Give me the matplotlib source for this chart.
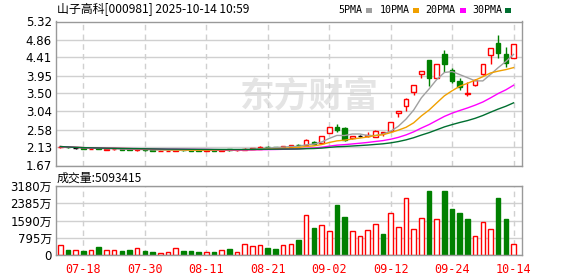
import matplotlib.pyplot as plt
from matplotlib.patches import Rectangle
import numpy as np
import pandas as pd

plt.rcParams['font.family'] = ['DejaVu Sans', 'Noto Sans CJK SC']

# trading days shown on the chart
dates = ['07-15', '07-16', '07-17', '07-18', '07-21', '07-22', '07-23', '07-24', '07-25', '07-28',
         '07-29', '07-30', '07-31', '08-01', '08-04', '08-05', '08-06', '08-07', '08-08', '08-11',
         '08-12', '08-13', '08-14', '08-15', '08-18', '08-19', '08-20', '08-21', '08-22', '08-25',
         '08-26', '08-27', '08-28', '08-29', '09-01', '09-02', '09-03', '09-04', '09-05', '09-08',
         '09-09', '09-10', '09-11', '09-12', '09-15', '09-16', '09-17', '09-18', '09-19', '09-22',
         '09-23', '09-24', '09-25', '09-26', '09-29', '09-30', '10-09', '10-10', '10-13', '10-14']

opens = [2.13, 2.15, 2.11, 2.12, 2.09, 2.11, 2.07, 2.08, 2.09, 2.08,
         2.06, 2.08, 2.06, 2.04, 2.04, 2.05, 2.07, 2.06, 2.06, 2.04,
         2.06, 2.05, 2.08, 2.06, 2.07, 2.09, 2.10, 2.15, 2.14, 2.13,
         2.15, 2.20, 2.18, 2.27, 2.25, 2.50, 2.65, 2.62, 2.36, 2.42,
         2.41, 2.40, 2.50, 2.55, 3.00, 3.17, 3.53, 4.00, 4.34, 3.89,
         4.49, 4.09, 3.82, 3.49, 3.70, 4.00, 4.46, 4.78, 4.49, 4.40]
closes = [2.15, 2.13, 2.11, 2.10, 2.10, 2.09, 2.08, 2.09, 2.07, 2.07,
          2.08, 2.06, 2.05, 2.05, 2.05, 2.07, 2.06, 2.05, 2.05, 2.06,
          2.05, 2.07, 2.06, 2.07, 2.10, 2.11, 2.15, 2.13, 2.13, 2.16,
          2.18, 2.18, 2.32, 2.22, 2.42, 2.64, 2.56, 2.31, 2.41, 2.42,
          2.45, 2.55, 2.51, 2.77, 3.04, 3.36, 3.70, 4.06, 3.89, 4.24,
          4.25, 3.82, 3.67, 3.50, 3.84, 4.24, 4.64, 4.53, 4.28, 4.74]
highs = [2.16, 2.16, 2.12, 2.13, 2.11, 2.12, 2.09, 2.10, 2.10, 2.09,
         2.09, 2.09, 2.07, 2.06, 2.06, 2.08, 2.08, 2.07, 2.07, 2.07,
         2.07, 2.08, 2.09, 2.08, 2.11, 2.12, 2.16, 2.16, 2.15, 2.17,
         2.19, 2.22, 2.33, 2.30, 2.43, 2.65, 2.72, 2.65, 2.43, 2.44,
         2.53, 2.56, 2.51, 2.78, 3.05, 3.37, 3.71, 4.07, 4.35, 4.25,
         4.59, 4.15, 3.90, 3.78, 3.85, 4.25, 4.65, 4.99, 4.67, 4.75]
lows = [2.12, 2.12, 2.10, 2.09, 2.08, 2.08, 2.06, 2.07, 2.06, 2.06,
        2.03, 2.05, 2.04, 2.03, 2.03, 2.04, 2.05, 2.04, 2.04, 2.03,
        2.04, 2.04, 2.05, 2.05, 2.06, 2.08, 2.09, 2.12, 2.12, 2.12,
        2.14, 2.15, 2.17, 2.20, 2.24, 2.49, 2.53, 2.28, 2.34, 2.40,
        2.40, 2.39, 2.43, 2.54, 2.90, 3.06, 3.46, 3.89, 3.69, 3.88,
        4.03, 3.75, 3.59, 3.42, 3.69, 3.97, 4.25, 4.40, 4.17, 4.39]

# volume in 万股, and whether the bar is drawn red (up) or green
volumes = [454, 227, 227, 182, 227, 363, 227, 227, 182, 227,
           303, 182, 136, 106, 136, 303, 182, 182, 136, 136,
           136, 212, 273, 136, 500, 409, 439, 318, 273, 439,
           496, 691, 1843, 1244, 1383, 1106, 2304, 1751, 1106, 876,
           1152, 1429, 968, 1920, 1290, 2612, 1183, 1690, 2950, 1644,
           2950, 2120, 1936, 1659, 876, 1521, 1183, 2627, 1659, 509]
vol_up = [1, 0, 1, 0, 1, 0, 1, 1, 0, 0,
          1, 0, 0, 1, 1, 1, 0, 0, 0, 1,
          0, 1, 0, 1, 1, 1, 1, 0, 0, 1,
          1, 0, 1, 0, 1, 1, 0, 0, 1, 1,
          1, 1, 0, 1, 1, 1, 1, 1, 0, 1,
          0, 0, 0, 0, 1, 1, 1, 0, 0, 1]

ma_periods = [5, 10, 20, 30]
ma_names = ['5PMA', '10PMA', '20PMA', '30PMA']
ma_colors = ['#a0a0a0', '#f0a000', '#ff00ff', '#006f30']

price_ticks = [1.67, 2.13, 2.58, 3.04, 3.50, 3.95, 4.41, 4.86, 5.32]
vol_ticks = [0, 795, 1590, 2385, 3180]
date_ticks = ['07-18', '07-30', '08-11', '08-21', '09-02', '09-12', '09-24', '10-14']

RED = '#ff0000'
GREEN = '#008000'
GRID = '#d0d0d0'
FRAME = '#999999'

fig = plt.figure(figsize=(5.78, 2.76), dpi=100)
W, H = 578, 276
ax = fig.add_axes([56 / W, 1 - 165.5 / H, 466 / W, 144 / H])
axv = fig.add_axes([56 / W, 1 - 255 / H, 466 / W, 69 / H])

x = np.arange(len(dates))
tick_pos = [dates.index(d) for d in date_ticks]

# candles
for i in x:
    o, c = opens[i], closes[i]
    if c > o:
        col, face = RED, 'white'
    elif c < o:
        col, face = GREEN, GREEN
    else:
        col, face = 'black', 'black'
    ax.vlines(i, lows[i], highs[i], color=col, lw=1, zorder=2)
    ax.bar(i, max(abs(c - o), 0.004), bottom=min(o, c), width=0.6,
           facecolor=face, edgecolor=col, lw=1, zorder=2.5)

# moving averages
s = pd.Series(closes)
for p, col in zip(ma_periods, ma_colors):
    ax.plot(x, s.rolling(p, min_periods=1).mean(), color=col, lw=1, zorder=3)

# volume bars
for i in x:
    if vol_up[i]:
        axv.bar(i, volumes[i], width=0.6, facecolor='white', edgecolor=RED, lw=1, zorder=2)
    else:
        axv.bar(i, volumes[i], width=0.6, facecolor=GREEN, edgecolor=GREEN, lw=1, zorder=2)

for a in (ax, axv):
    a.set_xlim(-0.57, 60.1)
    a.set_xticks(tick_pos)
    a.grid(True, axis='y', color=GRID, lw=1, zorder=0)
    a.grid(True, axis='x', color=GRID, lw=1, ls=(0, (4, 3)), zorder=0)
    a.tick_params(length=0, labelsize=8.5, pad=3)
    for sp in a.spines.values():
        sp.set_color(FRAME)
        sp.set_linewidth(1)

ax.set_ylim(1.67, 5.32)
ax.set_yticks(price_ticks)
ax.set_yticklabels([f'{v:.2f}' for v in price_ticks])
ax.set_xticklabels([])

axv.set_ylim(0, 3180)
axv.set_yticks(vol_ticks)
axv.set_yticklabels(['0' if v == 0 else f'{v}万' for v in vol_ticks])
axv.set_xticklabels(date_ticks, color=RED, family='DejaVu Sans Mono', fontsize=8.5)
axv.tick_params(axis='x', pad=6)

# watermark
ax.text(309 / W, 1 - 96 / H, '东方财富', transform=fig.transFigure, ha='center', va='center',
        fontsize=25, fontweight='bold', color='#e4e4e4', family=['Noto Sans CJK SC'], zorder=0.5)

# header texts
fig.text(57 / W, 1 - 10 / H, '山子高科[000981] 2025-10-14 10:59', va='center', fontsize=8.6,
         family=['Noto Sans CJK SC'])
fig.text(57 / W, 1 - 178 / H, '成交量:5093415', va='center', fontsize=8.6,
         family=['Noto Sans CJK SC'])

# MA legend: name then small colour square
lx = [338, 380, 425, 472]
sq = [366, 413, 460, 505]
for name, col, px, qx in zip(ma_names, ma_colors, lx, sq):
    fig.text(px / W, 1 - 10 / H, name, va='center', fontsize=7.2, family=['DejaVu Sans Mono'])
    fig.patches.append(Rectangle((qx / W, 1 - 12.5 / H), 6 / W, 5 / H, transform=fig.transFigure,
                                 facecolor=col, edgecolor='none'))

fig.savefig('out.png', dpi=100)
